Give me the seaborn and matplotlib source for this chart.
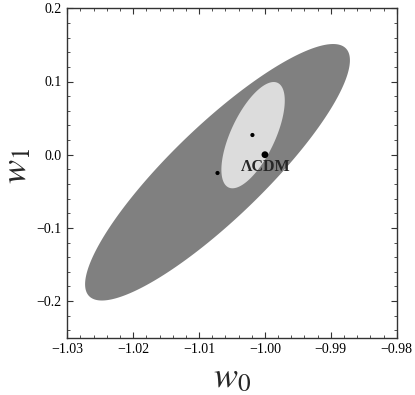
import numpy as np
import matplotlib
matplotlib.use("Agg")
import matplotlib.pyplot as plt
from matplotlib.ticker import MultipleLocator, FuncFormatter
import pandas as pd
import seaborn as sns

# confidence regions: centre, half-extent along w0 and w1, correlation
region_names = ["outer", "inner"]
region_w0 = [-1.0072, -1.0018]
region_w1 = [-0.024, 0.0267]
region_sx = [0.0201, 0.00481]
region_sy = [0.1752, 0.0726]
region_rho = [0.873, 0.65]
region_colors = ["#808080", "#dcdcdc"]

# best fit points and LCDM
point_w0 = [-1.0072, -1.0019, -1.0]
point_w1 = [-0.025, 0.0269, 0.0]
point_kind = ["fit", "fit", "lcdm"]

def main():
    sns.set_style("ticks")
    plt.rcParams["font.family"] = ["Liberation Serif", "DejaVu Serif"]
    plt.rcParams["mathtext.fontset"] = "stix"

    fig = plt.figure(figsize=(4.15, 3.95), dpi=100)
    ax = fig.add_axes([67.3/415, 1 - 337.7/395, 329.4/415, 329.4/395])

    # outline of each region from its covariance (cholesky of 2x2)
    t = np.linspace(0, 2*np.pi, 400)
    for i in range(len(region_names)):
        c = region_rho[i]*region_sx[i]*region_sy[i]
        cov = np.array([[region_sx[i]**2, c], [c, region_sy[i]**2]])
        L = np.linalg.cholesky(cov)
        xy = L @ np.vstack([np.cos(t), np.sin(t)])
        ax.fill(region_w0[i] + xy[0], region_w1[i] + xy[1],
                color=region_colors[i], lw=0, zorder=1)

    pts = pd.DataFrame({"w0": point_w0, "w1": point_w1, "kind": point_kind})
    sns.scatterplot(data=pts, x="w0", y="w1", size="kind",
                    sizes={"fit": 9, "lcdm": 24}, color="black",
                    edgecolor="none", legend=False, ax=ax, zorder=3)
    ax.text(-1.0037, -0.0164, "\u039bCDM", fontsize=11.5, fontweight="bold",
            va="center", ha="left", zorder=4)

    ax.set_xlim(-1.03, -0.98)
    ax.set_ylim(-0.25, 0.2)
    ax.xaxis.set_major_locator(MultipleLocator(0.01))
    ax.xaxis.set_minor_locator(MultipleLocator(0.002))
    ax.yaxis.set_major_locator(MultipleLocator(0.1))
    ax.yaxis.set_minor_locator(MultipleLocator(0.02))
    ax.xaxis.set_major_formatter(FuncFormatter(lambda v, p: f"{v:.2f}".replace("-", "\u2212")))
    ax.yaxis.set_major_formatter(FuncFormatter(lambda v, p: f"{v:.1f}".replace("-", "\u2212")))
    ax.tick_params(which="both", direction="in", top=True, right=True,
                   labelsize=10, colors="#333333", labelcolor="black", pad=4)
    ax.tick_params(which="major", length=4, width=0.8)
    ax.tick_params(which="minor", length=2, width=0.6)
    for s in ax.spines.values():
        s.set_linewidth(1.0)
        s.set_color("#333333")

    ax.set_xlabel(r"$w_0$", fontsize=26, labelpad=4)
    ax.set_ylabel(r"$w_1$", fontsize=26)
    ax.yaxis.set_label_coords(-0.1, 0.52)

    plt.savefig("out.png", dpi=100)
    plt.close()

if __name__ == "__main__":
    main()
